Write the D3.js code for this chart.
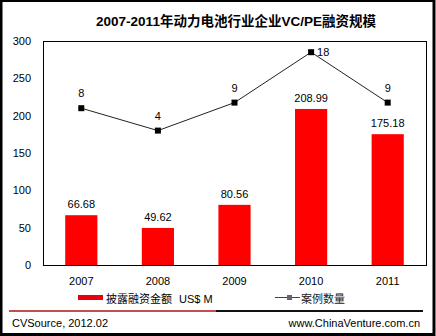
<!DOCTYPE html>
<html>
<head>
<meta charset="utf-8">
<script src="https://cdn.jsdelivr.net/npm/d3@7"></script>
<style>
  body { margin: 0; background: #fff; }
  svg { display: block; }
  text { font-family: "Liberation Sans", Arial, "Noto Sans CJK SC", sans-serif; }
</style>
</head>
<body>
<div id="canvas"></div>
<script>
// VC/PE funding in the power battery industry, 2007-2011
let years = ["2007", "2008", "2009", "2010", "2011"];
let amounts = [66.68, 49.62, 80.56, 208.99, 175.18];   // US$ M
let deals = [8, 4, 9, 18, 9];
let leftTicks = [0, 50, 100, 150, 200, 250, 300];

let width = 436;
let height = 336;
let margin = { top: 41, right: 10, bottom: 71, left: 43 };
let cjk = "\"Noto Sans CJK SC\", sans-serif";

let svg = d3.select("#canvas")
  .append("svg")
  .attr("width", width)
  .attr("height", height);

// outer frame
svg.append("rect")
  .attr("x", 1).attr("y", 0.5)
  .attr("width", width - 3).attr("height", height - 2)
  .attr("fill", "#fff")
  .attr("stroke", "#000")
  .attr("stroke-width", 3);

let escalaX = d3.scaleBand()
  .domain(years)
  .range([margin.left, width - margin.right])
  .paddingInner(0.58)
  .paddingOuter(0.29);
let escalaY = d3.scaleLinear()
  .domain([0, 300])
  .range([height - margin.bottom, margin.top]);
// hidden secondary axis for the deal count line
let escalaY2 = d3.scaleLinear()
  .domain([-20, 20])
  .range([height - margin.bottom, margin.top]);

// title
svg.append("text")
  .attr("x", 236)
  .attr("y", 26)
  .attr("text-anchor", "middle")
  .attr("font-size", 13.5)
  .attr("font-weight", "bold")
  .style("font-family", "\"Liberation Sans\", Arial, \"Noto Sans CJK SC\", sans-serif")
  .text("2007-2011年动力电池行业企业VC/PE融资规模");

// plot frame
svg.append("rect")
  .attr("x", margin.left + 0.5)
  .attr("y", margin.top + 0.5)
  .attr("width", width - margin.right - margin.left)
  .attr("height", height - margin.bottom - margin.top)
  .attr("fill", "none")
  .attr("stroke", "#000");

// y axis labels only
let ejeY = d3.axisLeft(escalaY).tickValues(leftTicks).tickSize(0).tickPadding(12);
let gy = svg.append("g")
  .attr("transform", "translate(" + margin.left + ",0)")
  .call(ejeY);
gy.select(".domain").remove();
gy.selectAll("text").attr("font-size", 11).attr("fill", "#000")
  .style("font-family", "\"Liberation Sans\", Arial, sans-serif");

// x axis labels
let ejeX = d3.axisBottom(escalaX).tickSize(0).tickPadding(12);
let gx = svg.append("g")
  .attr("transform", "translate(0," + (height - margin.bottom) + ")")
  .call(ejeX);
gx.select(".domain").remove();
gx.selectAll("text").attr("font-size", 11).attr("fill", "#000")
  .style("font-family", "\"Liberation Sans\", Arial, sans-serif");

// bars
svg.selectAll("rect.bar")
  .data(amounts)
  .enter()
  .append("rect")
  .attr("class", "bar")
  .attr("x", (d, i) => escalaX(years[i]))
  .attr("y", d => escalaY(d))
  .attr("width", escalaX.bandwidth())
  .attr("height", d => escalaY(0) - escalaY(d))
  .attr("fill", "#ff0000");

svg.selectAll("text.amount")
  .data(amounts)
  .enter()
  .append("text")
  .attr("class", "amount")
  .attr("x", (d, i) => escalaX(years[i]) + escalaX.bandwidth() / 2)
  .attr("y", d => escalaY(d) - 7)
  .attr("text-anchor", "middle")
  .attr("font-size", 11)
  .text(d => d.toFixed(2));

// deal count line
let cx = (d, i) => escalaX(years[i]) + escalaX.bandwidth() / 2;
let linea = d3.line()
  .x(cx)
  .y(d => escalaY2(d));
svg.append("path")
  .datum(deals)
  .attr("d", linea)
  .attr("fill", "none")
  .attr("stroke", "#222")
  .attr("stroke-width", 1);

svg.selectAll("rect.marker")
  .data(deals)
  .enter()
  .append("rect")
  .attr("class", "marker")
  .attr("x", (d, i) => cx(d, i) - 3)
  .attr("y", d => escalaY2(d) - 3)
  .attr("width", 6)
  .attr("height", 6)
  .attr("fill", "#000");

svg.selectAll("text.deal")
  .data(deals)
  .enter()
  .append("text")
  .attr("class", "deal")
  .attr("x", (d, i) => i === 3 ? cx(d, i) + 6 : cx(d, i))
  .attr("y", (d, i) => i === 3 ? escalaY2(d) + 4 : escalaY2(d) - 11)
  .attr("text-anchor", (d, i) => i === 3 ? "start" : "middle")
  .attr("font-size", 11)
  .text(d => d);

// legend
let leyenda = svg.append("g");
leyenda.append("rect")
  .attr("x", 78).attr("y", 295)
  .attr("width", 25).attr("height", 5)
  .attr("fill", "#e8000b");
leyenda.append("text")
  .attr("x", 106).attr("y", 303)
  .attr("font-size", 11)
  .style("font-family", cjk)
  .text("披露融资金额");
leyenda.append("text")
  .attr("x", 179).attr("y", 303)
  .attr("font-size", 11)
  .text("US$ M");
leyenda.append("line")
  .attr("x1", 275).attr("x2", 300)
  .attr("y1", 297.5).attr("y2", 297.5)
  .attr("stroke", "#444");
leyenda.append("rect")
  .attr("x", 287).attr("y", 295)
  .attr("width", 5).attr("height", 5)
  .attr("fill", "#666");
leyenda.append("text")
  .attr("x", 301).attr("y", 303)
  .attr("font-size", 11)
  .style("font-family", cjk)
  .attr("fill", "#222")
  .text("案例数量");

// footer rule and source
svg.append("line")
  .attr("x1", 9).attr("x2", 216)
  .attr("y1", 311).attr("y2", 311)
  .attr("stroke", "#c0504d").attr("stroke-width", 2);
svg.append("line")
  .attr("x1", 216).attr("x2", 423)
  .attr("y1", 311).attr("y2", 311)
  .attr("stroke", "#111").attr("stroke-width", 2);
svg.append("text")
  .attr("x", 12).attr("y", 327)
  .attr("font-size", 11)
  .text("CVSource, 2012.02");
svg.append("text")
  .attr("x", 420).attr("y", 327)
  .attr("text-anchor", "end")
  .attr("font-size", 11)
  .text("www.ChinaVenture.com.cn");
</script>
</body>
</html>
